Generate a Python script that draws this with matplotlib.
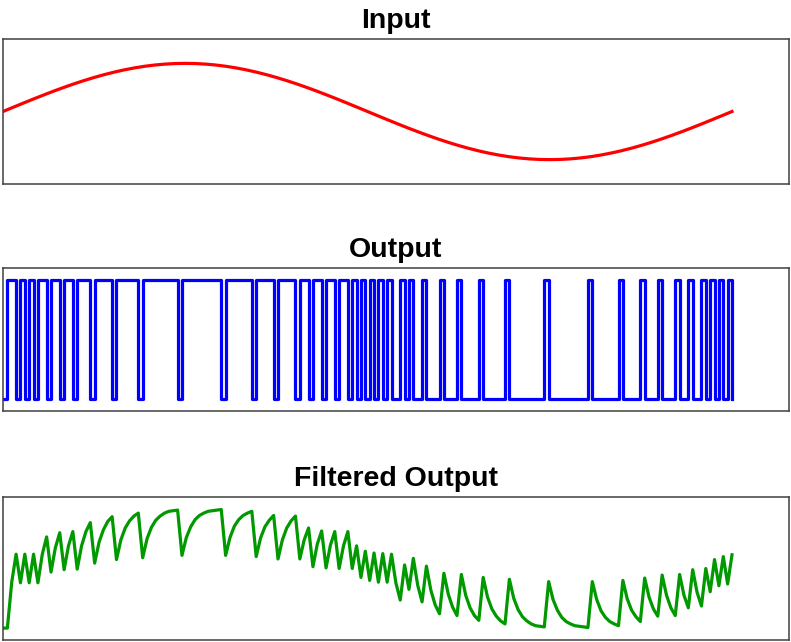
import matplotlib
matplotlib.use("Agg")
import matplotlib.pyplot as plt

# ---- data ----
titles = ["Input", "Output", "Filtered Output"]

input_phase_deg = [0, 5, 10, 15, 20, 25, 30, 35, 40, 45, 50, 55, 60, 65, 70, 75, 80, 85, 90,
                   95, 100, 105, 110, 115, 120, 125, 130, 135, 140, 145, 150, 155, 160, 165, 170, 175, 180,
                   185, 190, 195, 200, 205, 210, 215, 220, 225, 230, 235, 240, 245, 250, 255, 260, 265, 270,
                   275, 280, 285, 290, 295, 300, 305, 310, 315, 320, 325, 330, 335, 340, 345, 350, 355, 360]
input_values = [
    0.0, 0.0697, 0.1389, 0.2071, 0.2736, 0.3381, 0.4, 0.4589, 0.5142, 0.5657, 0.6128, 0.6553,
    0.6928, 0.7250, 0.7518, 0.7727, 0.7878, 0.7970, 0.8,
    0.7970, 0.7878, 0.7727, 0.7518, 0.7250, 0.6928, 0.6553, 0.6128, 0.5657, 0.5142, 0.4589,
    0.4, 0.3381, 0.2736, 0.2071, 0.1389, 0.0697, 0.0,
    -0.0697, -0.1389, -0.2071, -0.2736, -0.3381, -0.4, -0.4589, -0.5142, -0.5657, -0.6128, -0.6553,
    -0.6928, -0.7250, -0.7518, -0.7727, -0.7878, -0.7970, -0.8,
    -0.7970, -0.7878, -0.7727, -0.7518, -0.7250, -0.6928, -0.6553, -0.6128, -0.5657, -0.5142, -0.4589,
    -0.4, -0.3381, -0.2736, -0.2071, -0.1389, -0.0697, 0.0,
]

output_bits = [
    0, 1, 1, 0, 1, 0, 1, 0, 1, 1,
    0, 1, 1, 0, 1, 1, 0, 1, 1, 1,
    0, 1, 1, 1, 1, 0, 1, 1, 1, 1,
    1, 0, 1, 1, 1, 1, 1, 1, 1, 1,
    0, 1, 1, 1, 1, 1, 1, 1, 1, 1,
    0, 1, 1, 1, 1, 1, 1, 0, 1, 1,
    1, 1, 0, 1, 1, 1, 1, 0, 1, 1,
    0, 1, 1, 0, 1, 1, 0, 1, 1, 0,
    1, 0, 1, 0, 1, 0, 1, 0, 1, 0,
    0, 1, 0, 1, 0, 0, 1, 0, 0, 0,
    1, 0, 0, 0, 1, 0, 0, 0, 0, 1,
    0, 0, 0, 0, 0, 1, 0, 0, 0, 0,
    0, 0, 0, 0, 1, 0, 0, 0, 0, 0,
    0, 0, 0, 0, 1, 0, 0, 0, 0, 0,
    0, 1, 0, 0, 0, 0, 1, 0, 0, 0,
    1, 0, 0, 0, 1, 0, 0, 1, 0, 0,
    1, 0, 1, 0, 1, 0, 1, 0,
]

filtered_values = [
    -1.00, -1.00, -0.23, 0.24, -0.24, 0.24, -0.24, 0.24, -0.24, 0.24, 0.53, -0.06, 0.35,
    0.60, -0.02, 0.38, 0.62, -0.01, 0.38, 0.62, 0.77, 0.09, 0.44, 0.65, 0.79, 0.87,
    0.15, 0.48, 0.68, 0.80, 0.88, 0.93, 0.18, 0.50, 0.69, 0.81, 0.88, 0.93, 0.96, 0.97,
    0.98, 0.22, 0.52, 0.70, 0.82, 0.89, 0.93, 0.96, 0.97, 0.98, 0.99, 0.22, 0.52, 0.71,
    0.82, 0.89, 0.93, 0.96, 0.20, 0.51, 0.70, 0.81, 0.89, 0.16, 0.48, 0.68, 0.80, 0.88,
    0.16, 0.48, 0.68, 0.03, 0.41, 0.63, 0.01, 0.39, 0.62, -0.00, 0.38, 0.62, -0.00,
    0.38, -0.15, 0.29, -0.20, 0.26, -0.23, 0.25, -0.23, 0.24, -0.24, -0.53, 0.06, -0.35,
    0.17, -0.28, -0.56, 0.04, -0.36, -0.61, -0.76, -0.08, -0.43, -0.65, -0.79, -0.10,
    -0.45, -0.66, -0.79, -0.87, -0.15, -0.48, -0.68, -0.80, -0.88, -0.93, -0.18, -0.50,
    -0.69, -0.81, -0.88, -0.93, -0.96, -0.97, -0.98, -0.22, -0.52, -0.70, -0.82, -0.89,
    -0.93, -0.96, -0.97, -0.98, -0.99, -0.22, -0.52, -0.71, -0.82, -0.89, -0.93, -0.96,
    -0.20, -0.51, -0.70, -0.81, -0.89, -0.16, -0.48, -0.68, -0.80, -0.11, -0.45, -0.66,
    -0.79, -0.10, -0.45, -0.66, -0.02, -0.40, -0.63, -0.00, -0.39, 0.15, -0.29, 0.20,
    -0.26, 0.23,
]

# ---- figure ----
W, H = 791, 642
fig = plt.figure(figsize=(W / 100, H / 100), dpi=100)


def ax_at(x0, y0, x1, y1):
    return fig.add_axes([x0 / W, 1 - y1 / H, (x1 - x0) / W, (y1 - y0) / H])


extend = 786 / 729  # axes run past the end of the data
boxes = [(39.3, 183.7), (268, 411), (497, 640)]
axes = [ax_at(3, b0, 789, b1) for b0, b1 in boxes]

for ax, title in zip(axes, titles):
    ax.set_xticks([])
    ax.set_yticks([])
    for s in ax.spines.values():
        s.set_color("#404040")
        s.set_linewidth(1.1)
    ax.set_title(title, fontsize=20.5, fontweight="bold",
                 family=["Liberation Sans", "DejaVu Sans"], pad=8)

# Input
ax = axes[0]
ax.plot(input_phase_deg, input_values, color="red", lw=2.3)
ax.set_xlim(0, input_phase_deg[-1] * extend)
ax.set_ylim(-1.2, 1.2)

# Output (bit stream)
ax = axes[1]
n_out = list(range(len(output_bits)))
ax.step(n_out, output_bits, where="post", color="blue", lw=2.3)
ax.set_xlim(0, n_out[-1] * extend)
ax.set_ylim(-0.1, 1.1)

# Filtered output
ax = axes[2]
n_f = list(range(len(filtered_values)))
ax.plot(n_f, filtered_values, color=(0, 0.6, 0), lw=2.3)
ax.set_xlim(0, n_f[-1] * extend)
ax.set_ylim(-1.2, 1.2)

fig.savefig("out.png", dpi=100)
